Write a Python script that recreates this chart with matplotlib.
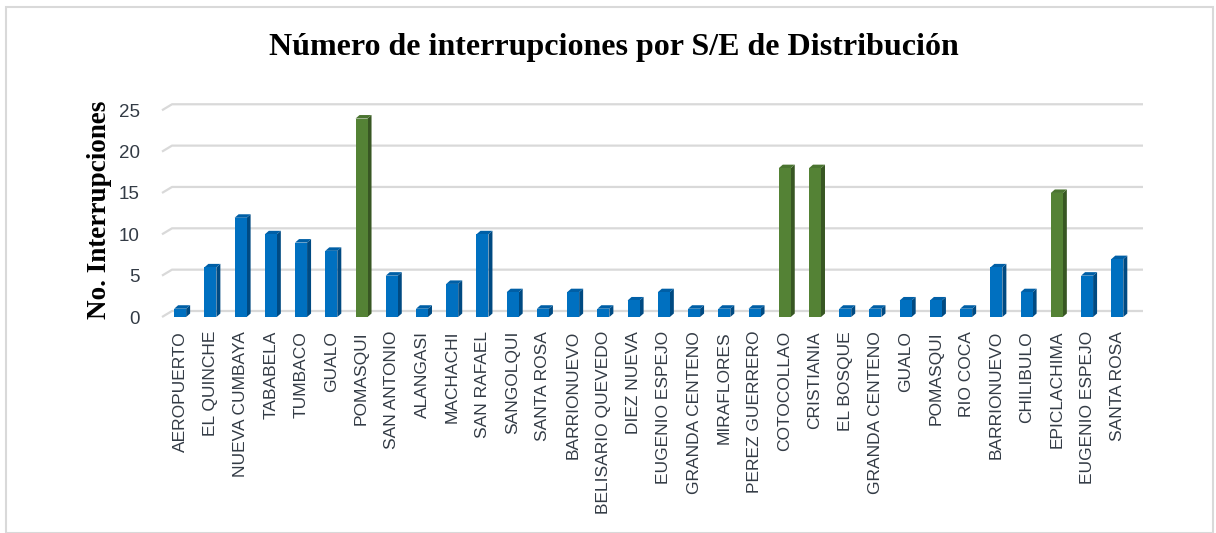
import matplotlib
matplotlib.use("Agg")
import matplotlib.pyplot as plt
from matplotlib.patches import Polygon, Rectangle
from matplotlib import font_manager

categories = ["AEROPUERTO", "EL QUINCHE", "NUEVA CUMBAYA", "TABABELA", "TUMBACO", "GUALO",
              "POMASQUI", "SAN ANTONIO", "ALANGASI", "MACHACHI", "SAN RAFAEL", "SANGOLQUI",
              "SANTA ROSA", "BARRIONUEVO", "BELISARIO QUEVEDO", "DIEZ NUEVA", "EUGENIO ESPEJO",
              "GRANDA CENTENO", "MIRAFLORES", "PEREZ GUERRERO", "COTOCOLLAO", "CRISTIANIA",
              "EL BOSQUE", "GRANDA CENTENO", "GUALO", "POMASQUI", "RIO COCA", "BARRIONUEVO",
              "CHILIBULO", "EPICLACHIMA", "EUGENIO ESPEJO", "SANTA ROSA"]
values = [1, 6, 12, 10, 9, 8, 24, 5, 1, 4, 10, 3, 1, 3, 1, 2, 3, 1, 1, 1, 18, 18,
          1, 1, 2, 2, 1, 6, 3, 15, 5, 7]
highlight = [False, False, False, False, False, False, True, False, False, False, False, False,
             False, False, False, False, False, False, False, False, True, True,
             False, False, False, False, False, False, False, True, False, False]
yticks = [0, 5, 10, 15, 20, 25]

installed = {f.name for f in font_manager.fontManager.ttflist}
narrow = "Liberation Sans Narrow" in installed
tick_family = "Liberation Sans Narrow" if narrow else "Liberation Sans"
xt_size = 15 if narrow else 12.5
yt_size = 16 if narrow else 13.5

W, H = 1216, 533
fig = plt.figure(figsize=(W / 100, H / 100), dpi=100)

# figure border
fig.patches.append(Rectangle((6 / W, 0), (1213 - 6) / W, (H - 7) / H, transform=fig.transFigure,
                             fill=False, edgecolor="#d9d9d9", linewidth=1.5))

ax_left, ax_right = 162, 1143
ax_bottom, ax_top = 317, 102
ax = fig.add_axes([ax_left / W, (H - ax_bottom) / H, (ax_right - ax_left) / W, (ax_bottom - ax_top) / H])
x0, x1 = -0.6, 31.85
ax.set_xlim(x0, x1)
ax.set_ylim(0, 26)
px_x = (ax_right - ax_left) / (x1 - x0)
px_y = (ax_bottom - ax_top) / 26.0

# back wall gridlines with perspective stub
wall_dx = 10 / px_x
wall_dy = 6 / px_y
for t in yticks:
    ax.plot([x0, x0 + wall_dx, x1], [t, t + wall_dy, t + wall_dy], color="#d9d9d9",
            linewidth=1.6, solid_capstyle="butt", zorder=1, clip_on=False)

# 3D-ish bars
bw = 12 / px_x
bdx = 4 / px_x
bdy = 3.5 / px_y
for i, (v, hl) in enumerate(zip(values, highlight)):
    if hl:
        front, side, top = "#548235", "#385723", "#4a7430"
    else:
        front, side, top = "#0070c0", "#004a82", "#005fa6"
    xl, xr = i - bw / 2, i + bw / 2
    ax.add_patch(Polygon([(xr, 0), (xr, v), (xr + bdx, v + bdy), (xr + bdx, bdy)],
                         closed=True, facecolor=side, edgecolor="none", zorder=3, clip_on=False))
    ax.add_patch(Polygon([(xl, v), (xr, v), (xr + bdx, v + bdy), (xl + bdx, v + bdy)],
                         closed=True, facecolor=top, edgecolor="none", zorder=3, clip_on=False))
    ax.bar(i, v, width=bw, color=front, zorder=4, clip_on=False)

for s in ax.spines.values():
    s.set_visible(False)
ax.set_yticks(yticks)
ax.set_yticklabels([str(t) for t in yticks], fontsize=yt_size, color="#333b45", family=tick_family)
ax.set_xticks(range(len(categories)))
ax.set_xticklabels(categories, rotation=90, fontsize=xt_size, color="#333b45", family=tick_family,
                   va="top", ha="center")
ax.tick_params(axis="both", length=0)
ax.tick_params(axis="y", pad=16)
ax.tick_params(axis="x", pad=10)
ax.set_ylabel("No. Interrupciones", fontsize=19.5, fontweight="bold", family="Liberation Serif",
              color="black", labelpad=5)

fig.text(0.505, 1 - 48 / H, "Número de interrupciones por S/E de Distribución", ha="center", va="center",
         fontsize=23, fontweight="bold", family="Liberation Serif", color="black")

fig.savefig("out.png", dpi=100)
